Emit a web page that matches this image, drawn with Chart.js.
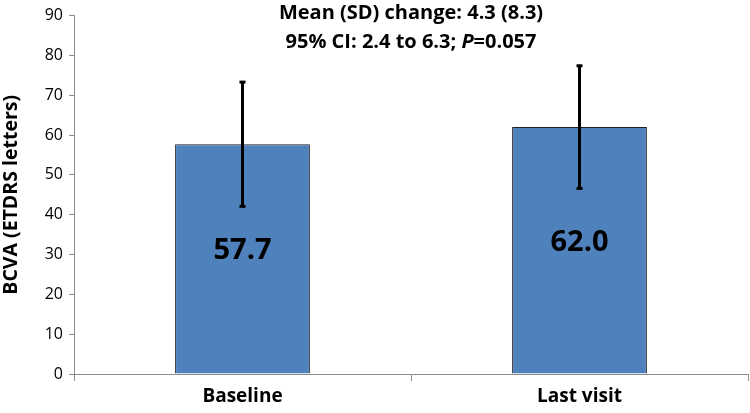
<!DOCTYPE html>
<html>
<head>
<meta charset="utf-8">
<script src="https://cdn.jsdelivr.net/npm/chart.js@4"></script>
<style>
  html, body { margin: 0; padding: 0; background: #fff; }
  #wrap { width: 750px; height: 413px; position: relative; }
</style>
</head>
<body>
<div id="wrap"><canvas id="grafico" width="750" height="413"></canvas></div>
<script>
// Dados do gráfico
const categorias = ['Baseline', 'Last visit'];
const medias = [57.7, 62.0];
const desvios = [15.6, 15.4];
const rotulos = ['57.7', '62.0'];
const linhaMedia = 'Mean (SD) change: 4.3 (8.3)';
const linhaIC = ['95% CI: 2.4 to 6.3; ', 'P', '=0.057'];

const FONTE = '"Open Sans", Lato, sans-serif';

// Barras de erro (média ± DP)
const barrasErro = {
    id: 'barrasErro',
    afterDatasetsDraw(chart) {
        const ctx = chart.ctx;
        const y = chart.scales.y;
        const meta = chart.getDatasetMeta(0);
        ctx.save();
        ctx.strokeStyle = '#000';
        ctx.fillStyle = '#000';
        meta.data.forEach((bar, i) => {
            const topo = y.getPixelForValue(medias[i] + desvios[i]);
            const base = y.getPixelForValue(medias[i] - desvios[i]);
            ctx.lineWidth = 3;
            ctx.beginPath();
            ctx.moveTo(bar.x, topo);
            ctx.lineTo(bar.x, base);
            ctx.stroke();
            ctx.fillRect(bar.x - 3, topo - 1.5, 6, 3);
            ctx.fillRect(bar.x - 3, base - 1.5, 6, 3);
        });
        ctx.restore();
    }
};

// Rótulos dentro das barras + texto do topo
const textos = {
    id: 'textos',
    afterDraw(chart) {
        const ctx = chart.ctx;
        const y = chart.scales.y;
        const meta = chart.getDatasetMeta(0);
        ctx.save();
        ctx.fillStyle = '#000';
        ctx.textAlign = 'center';
        ctx.textBaseline = 'middle';
        ctx.font = 'bold 29px ' + FONTE;
        meta.data.forEach((bar, i) => {
            const meio = y.getPixelForValue(medias[i] / 2);
            ctx.fillText(rotulos[i], bar.x, meio - 8);
        });

        // Anotação no topo
        const cx = (chart.scales.x.left + chart.scales.x.right) / 2;
        const fNormal = 'bold 20px ' + FONTE;
        const fItalico = 'italic bold 20px ' + FONTE;
        ctx.font = fNormal;
        ctx.fillText(linhaMedia, cx, 13);

        const w0 = ctx.measureText(linhaIC[0]).width;
        const w2 = ctx.measureText(linhaIC[2]).width;
        ctx.font = fItalico;
        const w1 = ctx.measureText(linhaIC[1]).width;
        let x = cx - (w0 + w1 + w2) / 2;
        ctx.textAlign = 'left';
        ctx.font = fNormal;
        ctx.fillText(linhaIC[0], x, 42);
        x += w0;
        ctx.font = fItalico;
        ctx.fillText(linhaIC[1], x, 42);
        x += w1;
        ctx.font = fNormal;
        ctx.fillText(linhaIC[2], x, 42);
        ctx.restore();
    }
};

const ctx = document.getElementById('grafico').getContext('2d');
new Chart(ctx, {
    type: 'bar',
    data: {
        labels: categorias,
        datasets: [{
            data: medias,
            backgroundColor: '#4f81bd',
            borderColor: '#1f1f1f',
            borderWidth: 1,
            categoryPercentage: 0.4,
            barPercentage: 1.0
        }]
    },
    options: {
        responsive: false,
        animation: false,
        devicePixelRatio: 1,
        layout: { padding: { top: 14, right: 2, left: 0, bottom: 0 } },
        plugins: {
            legend: { display: false },
            tooltip: { enabled: false }
        },
        scales: {
            x: {
                grid: {
                    offset: true,
                    drawOnChartArea: false,
                    tickLength: 7,
                    color: '#8c8c8c'
                },
                border: { color: '#8c8c8c' },
                ticks: {
                    color: '#000',
                    font: { family: FONTE, size: 19, weight: 'bold' },
                    padding: 4
                },
                afterFit(scale) { scale.height = 39; }
            },
            y: {
                min: 0,
                max: 90,
                ticks: {
                    stepSize: 10,
                    color: '#000',
                    font: { family: FONTE, size: 16 },
                    padding: 6
                },
                grid: {
                    drawOnChartArea: false,
                    tickLength: 5,
                    color: '#8c8c8c'
                },
                border: { color: '#8c8c8c' },
                title: {
                    display: true,
                    text: 'BCVA (ETDRS letters)',
                    color: '#000',
                    font: { family: FONTE, size: 19.5, weight: 'bold' },
                    padding: { top: 0, bottom: 8 }
                },
                afterFit(scale) { scale.width = 74; }
            }
        }
    },
    plugins: [barrasErro, textos]
});
</script>
</body>
</html>
